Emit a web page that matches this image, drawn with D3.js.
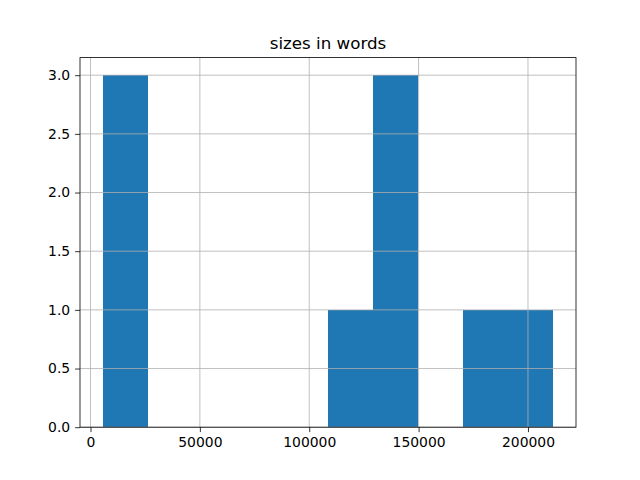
<!DOCTYPE html>
<html><head><meta charset="utf-8">
<script src="https://cdn.jsdelivr.net/npm/d3@7"></script>
<style>body{margin:0;background:#fff;} text{font-family:"DejaVu Sans",sans-serif;}</style>
</head><body>
<svg id="c" width="640" height="480"></svg>
<script>
const title = "sizes in words";
const binEdges = [5505, 26120, 46734, 67349, 87963, 108578, 129192, 149807, 170421, 191036, 211650];
const counts = [3, 0, 0, 0, 0, 1, 3, 0, 1, 1];
const xTicks = [0, 50000, 100000, 150000, 200000];
const yTicks = [0, 0.5, 1.0, 1.5, 2.0, 2.5, 3.0];

const svg = d3.select("#c");
const L = 80, R = 576, T = 57.6, B = 427.2;
const lo = binEdges[0], hi = binEdges[binEdges.length - 1], span = hi - lo;
const x = d3.scaleLinear().domain([lo - 0.05 * span, hi + 0.05 * span]).range([L, R]);
const ymax = d3.max(counts);
const y = d3.scaleLinear().domain([0, ymax * 1.05]).range([B, T]);

const bins = counts.map((c, i) => ({x0: binEdges[i], x1: binEdges[i + 1], c}));
svg.append("g").attr("shape-rendering", "crispEdges")
  .selectAll("rect").data(bins.filter(d => d.c > 0)).join("rect")
  .attr("x", d => Math.round(x(d.x0))).attr("width", d => Math.round(x(d.x1)) - Math.round(x(d.x0)))
  .attr("y", d => Math.round(y(d.c))).attr("height", d => Math.round(y(0)) - Math.round(y(d.c)))
  .attr("fill", "#1f77b4");

// grid
const g = svg.append("g").attr("stroke", "#b0b0b0").attr("stroke-width", 0.8);
g.selectAll(".gx").data(xTicks).join("line")
  .attr("x1", d => x(d)).attr("x2", d => x(d)).attr("y1", T).attr("y2", B);
g.selectAll(".gy").data(yTicks).join("line")
  .attr("y1", d => y(d)).attr("y2", d => y(d)).attr("x1", L).attr("x2", R);

// axes
const xAxis = d3.axisBottom(x).tickValues(xTicks).tickFormat(d3.format("d")).tickSizeInner(4.9).tickSizeOuter(0).tickPadding(4.9);
const yAxis = d3.axisLeft(y).tickValues(yTicks).tickFormat(d3.format(".1f")).tickSizeInner(4.9).tickSizeOuter(0).tickPadding(4.9);
const gx = svg.append("g").attr("transform", `translate(0,${B})`).call(xAxis);
const gy = svg.append("g").attr("transform", `translate(${L},0)`).call(yAxis);
[gx, gy].forEach(a => {
  a.select(".domain").remove();
  a.selectAll("line").attr("stroke", "#000").attr("stroke-width", 0.8);
  a.selectAll("text").attr("font-size", 13.9).attr("font-family", "DejaVu Sans").attr("fill", "#000");
});

// spines
svg.append("rect").attr("x", L).attr("y", T).attr("width", R - L).attr("height", B - T)
  .attr("fill", "none").attr("stroke", "#000").attr("stroke-width", 0.8);

svg.append("text").attr("x", (L + R) / 2).attr("y", T - 8.3).attr("text-anchor", "middle")
  .attr("font-size", 16.7).attr("fill", "#000").text(title);
</script>
</body></html>
